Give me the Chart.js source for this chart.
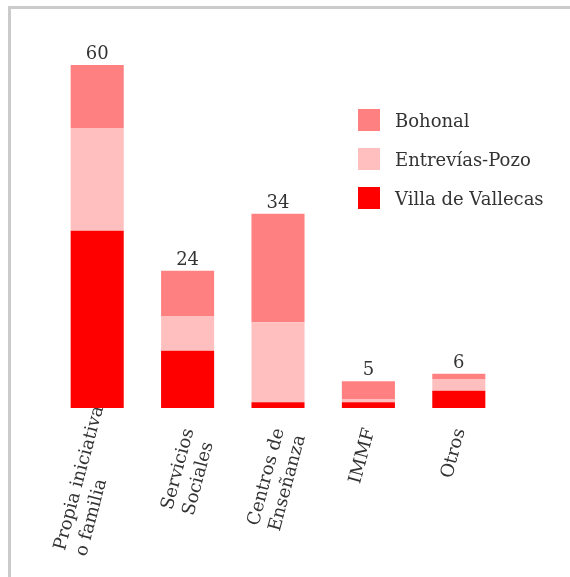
<!DOCTYPE html>
<html>
<head>
<meta charset="utf-8">
<script src="https://cdn.jsdelivr.net/npm/chart.js@4"></script>
<style>
  body { margin: 0; background: #fff; overflow: hidden; }
  canvas { display: block; }
</style>
</head>
<body>
<canvas id="chart" width="570" height="577"></canvas>
<script>
const categories = [
    ["Propia iniciativa", "o familia"],
    ["Servicios", "Sociales"],
    ["Centros de", "Enseñanza"],
    ["IMMF"],
    ["Otros"],
];
const villaVallecas = [31, 10, 1, 1, 3];
const entreviasPozo = [18, 6, 14, 0.5, 2];
const bohonal = [11, 8, 19, 3.2, 1];
const totals = [60, 24, 34, 5, 6];

const FONT = "'DejaVu Serif', serif";
const TEXT = "#333333";

// grey frame: top and left edges only
const frame = {
    id: "frame",
    beforeDraw(chart) {
        const ctx = chart.ctx;
        ctx.save();
        ctx.fillStyle = "#cbcbcb";
        ctx.fillRect(8, 6, chart.width - 8, 3);
        ctx.fillRect(8, 6, 3, chart.height - 6);
        ctx.restore();
    },
};

// totals over the stacks, rotated category labels, legend
const extras = {
    id: "extras",
    afterDatasetsDraw(chart) {
        const ctx = chart.ctx;
        const top = chart.getDatasetMeta(chart.data.datasets.length - 1).data;
        ctx.save();
        ctx.fillStyle = TEXT;
        ctx.font = "18px " + FONT;
        ctx.textAlign = "center";
        ctx.textBaseline = "alphabetic";
        top.forEach((bar, i) => ctx.fillText(String(totals[i]), bar.x, bar.y - 6));

        // category labels: block ends at the tick, lines left aligned
        const ang = 75 * Math.PI / 180, lh = 22;
        const xs = chart.scales.x;
        chart.data.labels.forEach((lines, i) => {
            const w = Math.max(...lines.map(l => ctx.measureText(l).width));
            const low = w * Math.sin(ang) + (lines.length - 1) * lh * Math.cos(ang);
            const ay = Math.min(chart.chartArea.bottom + 22, 557 - low);
            ctx.save();
            ctx.translate(xs.getPixelForTick(i) + 6, ay);
            ctx.rotate(-ang);
            ctx.textAlign = "left";
            lines.forEach((l, k) => ctx.fillText(l, -w, k * lh));
            ctx.restore();
        });

        const ds = chart.data.datasets.slice().reverse();
        ctx.textAlign = "left";
        ds.forEach((d, i) => {
            const cy = 120 + i * 39;
            ctx.fillStyle = d.backgroundColor;
            ctx.fillRect(358, cy - 11, 22, 22);
            ctx.fillStyle = TEXT;
            ctx.fillText(d.label, 395, cy + 7);
        });
        ctx.restore();
    },
};

new Chart(document.getElementById("chart"), {
    type: "bar",
    data: {
        labels: categories,
        datasets: [
            { label: "Villa de Vallecas", data: villaVallecas, backgroundColor: "#ff0000" },
            { label: "Entrevías-Pozo", data: entreviasPozo, backgroundColor: "#ffbfbf" },
            { label: "Bohonal", data: bohonal, backgroundColor: "#ff8080" },
        ],
    },
    options: {
        responsive: false,
        animation: false,
        events: [],
        categoryPercentage: 1,
        barPercentage: 0.587,
        layout: { padding: { left: 52, right: 66, top: 65, bottom: 0 } },
        scales: {
            x: {
                stacked: true,
                grid: { display: false },
                border: { display: false },
                ticks: { display: false },
                afterFit: s => { s.height = 169; },
            },
            y: { stacked: true, display: false, min: 0, max: 60 },
        },
        plugins: { legend: { display: false }, tooltip: { enabled: false } },
    },
    plugins: [frame, extras],
});
</script>
</body>
</html>
